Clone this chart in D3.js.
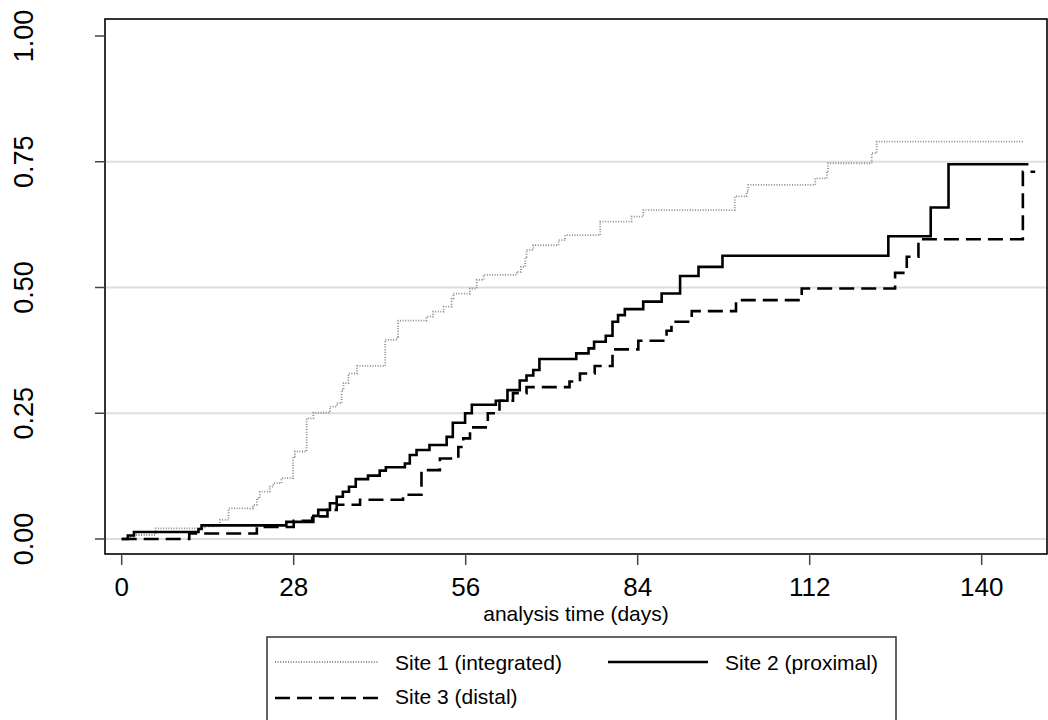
<!DOCTYPE html>
<html>
<head>
<meta charset="utf-8">
<script src="https://cdn.jsdelivr.net/npm/d3@7"></script>
<style>
  html, body { margin: 0; padding: 0; background: #fff; }
  svg { display: block; font-family: "Liberation Sans", Arial, sans-serif; }
</style>
</head>
<body>
<svg id="chart" width="1048" height="720"></svg>
<script>
// ---- data ----
const categories = ["Site 1 (integrated)", "Site 2 (proximal)", "Site 3 (distal)"];

const site1Time = [0,1,2,5.5,13.5,16,17.4,21.4,22,22.5,24.1,24.7,26,27.9,28.2,30.1,31.2,33.9,35,35.8,36.1,36.9,38.3,42.9,44.8,45,49.6,50.7,52.4,53.7,54,56.7,57.8,58.9,64.3,65,65.7,65.9,67,71.1,72.2,77.9,83,84.9,99.8,101.7,102,112.9,114.8,115,122.1,122.9,146.8];
const site1Fail = [0,0.004,0.008,0.021,0.025,0.038,0.061,0.068,0.081,0.094,0.104,0.111,0.121,0.164,0.174,0.240,0.251,0.263,0.270,0.296,0.310,0.329,0.344,0.396,0.402,0.434,0.442,0.452,0.462,0.478,0.488,0.498,0.515,0.525,0.531,0.541,0.561,0.575,0.584,0.594,0.604,0.631,0.641,0.654,0.681,0.690,0.704,0.717,0.730,0.747,0.767,0.790,0.790];

const site2Time = [0,1,2,12.5,13,26.8,31.2,32,33.9,35,36,37,38.1,40.1,42,43,46.1,46.9,48,50.1,52.9,53.9,55.9,57,60.9,62.8,64.8,65.9,67,68,74,76,76.9,78.8,79.9,80.8,81.9,84.9,87.9,90.9,93.9,97.8,124.8,131.7,134.6,147.6];
const site2Fail = [0,0.007,0.014,0.020,0.027,0.034,0.046,0.058,0.071,0.084,0.094,0.104,0.119,0.126,0.136,0.1425,0.150,0.167,0.177,0.187,0.203,0.231,0.250,0.267,0.275,0.296,0.315,0.325,0.336,0.358,0.369,0.379,0.392,0.404,0.432,0.445,0.457,0.472,0.488,0.523,0.541,0.563,0.602,0.659,0.745,0.745];

const site3Time = [0,11,22,28,31,33.5,35,38.8,45.8,48.8,51.8,54.8,55.6,56.7,59.6,61.5,63.7,65.9,72.9,74.6,77,79.9,84.1,88.7,89.5,92.8,100,110.7,125.9,127.8,129.7,146.7,148.7];
const site3Fail = [0,0.011,0.024,0.036,0.045,0.058,0.068,0.078,0.088,0.137,0.160,0.183,0.200,0.222,0.250,0.275,0.290,0.302,0.313,0.329,0.344,0.377,0.394,0.414,0.432,0.453,0.475,0.498,0.529,0.561,0.596,0.730,0.730];

const xTicks = [0, 28, 56, 84, 112, 140];
const yTicks = [0, 0.25, 0.5, 0.75, 1];
const yTickLabels = ["0.00", "0.25", "0.50", "0.75", "1.00"];
const yGrid = [0, 0.25, 0.5, 0.75];
const xTitle = "analysis time (days)";

// ---- layout ----
const svg = d3.select("#chart");
const frame = {left: 105, top: 19, right: 1047, bottom: 554};
const x = d3.scaleLinear().domain([0, 140]).range([121.7, 981.7]);
const y = d3.scaleLinear().domain([0, 1]).range([539, 36]);

// gridlines
svg.append("g").selectAll("line").data(yGrid).join("line")
  .attr("x1", frame.left).attr("x2", frame.right)
  .attr("y1", d => y(d)).attr("y2", d => y(d))
  .attr("stroke", "#dedede").attr("stroke-width", 2);

// series
const styles = [
  {stroke: "#8c8c8c", width: 1.8, dash: "1,1.6"},
  {stroke: "#000", width: 2.6, dash: null},
  {stroke: "#000", width: 2.6, dash: "15,7"}
];
const series = [
  d3.zip(site1Time, site1Fail),
  d3.zip(site2Time, site2Fail),
  d3.zip(site3Time, site3Fail)
];
const line = d3.line().x(d => x(d[0])).y(d => y(d[1])).curve(d3.curveStepAfter);
series.forEach((s, i) => {
  svg.append("path").datum(s)
    .attr("d", line)
    .attr("fill", "none")
    .attr("stroke", styles[i].stroke)
    .attr("stroke-width", styles[i].width)
    .attr("stroke-dasharray", styles[i].dash)
    .attr("stroke-linejoin", "miter")
    .attr("stroke-linecap", "butt");
});

// frame
svg.append("rect")
  .attr("x", frame.left).attr("y", frame.top)
  .attr("width", frame.right - frame.left).attr("height", frame.bottom - frame.top)
  .attr("fill", "none").attr("stroke", "#000").attr("stroke-width", 1.6);

// y axis
const yAxis = svg.append("g");
yAxis.selectAll("line").data(yTicks).join("line")
  .attr("x1", frame.left - 10).attr("x2", frame.left)
  .attr("y1", d => y(d)).attr("y2", d => y(d))
  .attr("stroke", "#444").attr("stroke-width", 1.5);
yAxis.selectAll("text").data(yTicks).join("text")
  .attr("transform", d => `translate(33,${y(d)}) rotate(-90)`)
  .attr("text-anchor", "middle")
  .attr("font-size", 27)
  .attr("fill", "#000")
  .text((d, i) => yTickLabels[i]);

// x axis
const xAxis = svg.append("g");
xAxis.selectAll("line").data(xTicks).join("line")
  .attr("x1", d => x(d)).attr("x2", d => x(d))
  .attr("y1", frame.bottom).attr("y2", frame.bottom + 11)
  .attr("stroke", "#444").attr("stroke-width", 1.5);
xAxis.selectAll("text").data(xTicks).join("text")
  .attr("x", d => x(d)).attr("y", 596)
  .attr("text-anchor", "middle")
  .attr("font-size", 26)
  .attr("fill", "#000")
  .text(d => d);

svg.append("text")
  .attr("x", 576).attr("y", 621)
  .attr("text-anchor", "middle")
  .attr("font-size", 21)
  .attr("fill", "#000")
  .text(xTitle);

// legend
const leg = svg.append("g");
leg.append("rect")
  .attr("x", 267).attr("y", 637).attr("width", 629).attr("height", 120)
  .attr("fill", "#fff").attr("stroke", "#333").attr("stroke-width", 1.5);
const legItems = [
  {i: 0, x1: 275, x2: 378, ly: 662, tx: 395, ty: 670},
  {i: 1, x1: 608, x2: 708, ly: 662, tx: 725, ty: 670},
  {i: 2, x1: 275, x2: 378, ly: 698, tx: 395, ty: 704}
];
legItems.forEach(it => {
  const st = styles[it.i];
  leg.append("line")
    .attr("x1", it.x1).attr("x2", it.x2).attr("y1", it.ly).attr("y2", it.ly)
    .attr("stroke", st.stroke).attr("stroke-width", st.width)
    .attr("stroke-dasharray", st.dash);
  leg.append("text")
    .attr("x", it.tx).attr("y", it.ty)
    .attr("font-size", 21).attr("fill", "#000")
    .text(categories[it.i]);
});
</script>
</body>
</html>
